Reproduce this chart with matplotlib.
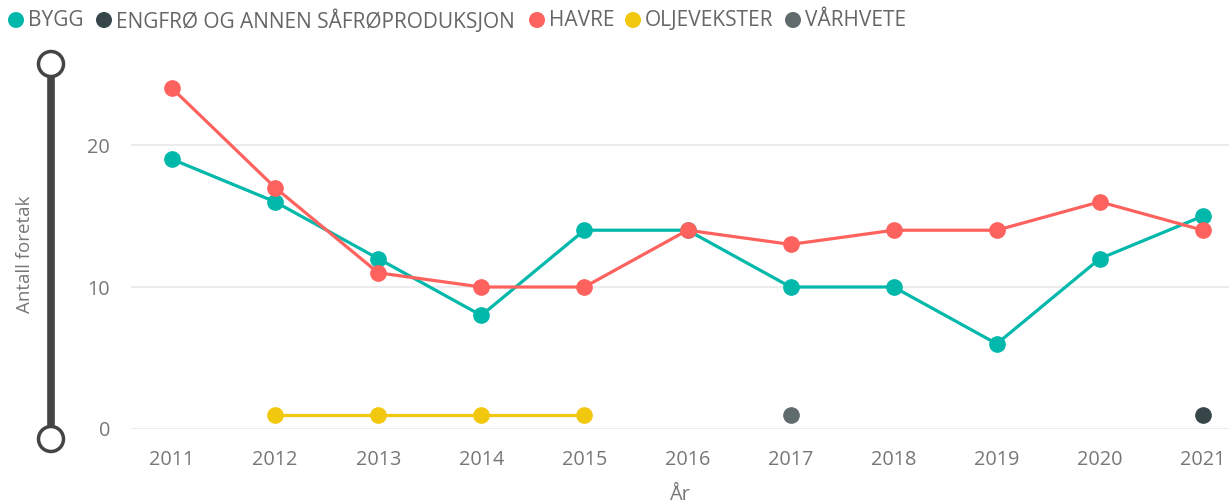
import matplotlib
matplotlib.use("Agg")
import matplotlib.pyplot as plt
from matplotlib.lines import Line2D
from matplotlib.patches import Circle

plt.rcParams['font.family'] = ['Open Sans', 'DejaVu Sans']

years = [2011, 2012, 2013, 2014, 2015, 2016, 2017, 2018, 2019, 2020, 2021]
bygg = [19, 16, 12, 8, 14, 14, 10, 10, 6, 12, 15]
havre = [24, 17, 11, 10, 10, 14, 13, 14, 14, 16, 14]
olje_years = [2012, 2013, 2014, 2015]
olje = [1, 1, 1, 1]
varhvete_years = [2017]
varhvete = [1]
engfro_years = [2021]
engfro = [1]

series_names = ["BYGG", "ENGFRØ OG ANNEN SÅFRØPRODUKSJON", "HAVRE", "OLJEVEKSTER", "VÅRHVETE"]
colors = {"BYGG": "#01B8AA", "ENGFRØ OG ANNEN SÅFRØPRODUKSJON": "#374649",
          "HAVRE": "#FD625E", "OLJEVEKSTER": "#F2C80F", "VÅRHVETE": "#5F6B6D"}
yticks = [0, 10, 20]

W, H = 1229, 504
fig = plt.figure(figsize=(W / 100, H / 100), dpi=100)
ax = fig.add_axes([131 / W, 1 - 429 / H, (W - 131) / W, (429 - 65.5) / H])

kw = dict(lw=2.3, marker='o', markersize=11, clip_on=False, solid_capstyle='round')
ax.plot(years, bygg, color=colors["BYGG"], zorder=3, **kw)
ax.plot(years, havre, color=colors["HAVRE"], zorder=4, **kw)
ax.plot(olje_years, olje, color=colors["OLJEVEKSTER"], zorder=3, **kw)
ax.plot(varhvete_years, varhvete, color=colors["VÅRHVETE"], zorder=3, **kw)
ax.plot(engfro_years, engfro, color=colors["ENGFRØ OG ANNEN SÅFRØPRODUKSJON"], zorder=3, **kw)

ax.set_xlim(2011 - 41 / 103.1, 2021 + 26 / 103.1)
ax.set_ylim(0, 25.6)
ax.set_xticks(years)
ax.set_xticklabels([str(y) for y in years])
ax.set_yticks(yticks)
for s in ax.spines.values():
    s.set_visible(False)
ax.grid(axis='y', color='#E9E9E9', lw=1.2)
ax.set_axisbelow(True)
ax.tick_params(axis='both', length=0, labelsize=14.3, labelcolor='#777777')
ax.tick_params(axis='x', pad=15)
ax.tick_params(axis='y', pad=15)
ax.set_xlabel("År", fontsize=14.3, color='#777777', labelpad=11)

# overlay in pixel coords
ov = fig.add_axes([0, 0, 1, 1], zorder=-1)
ov.set_xlim(0, W)
ov.set_ylim(H, 0)
ov.axis('off')
ov.add_line(Line2D([51, 51], [64, 439], color='#444444', lw=5.5, solid_capstyle='butt'))
for cy in (64, 439):
    ov.add_patch(Circle((51, cy), 12.5, facecolor='white', edgecolor='#444444', lw=2.5, zorder=3))
ov.text(25, 254, "Antall foretak", rotation=90, ha='center', va='center',
        fontsize=13.5, color='#777777')

# legend
leg_x = [16, 104, 537, 633, 793]
for name, x in zip(series_names, leg_x):
    ov.add_patch(Circle((x, 20), 8, facecolor=colors[name], edgecolor='none'))
    ov.text(x + 12, 21, name, ha='left', va='center', fontsize=15, color='#666666')

fig.savefig("out.png", dpi=100)
